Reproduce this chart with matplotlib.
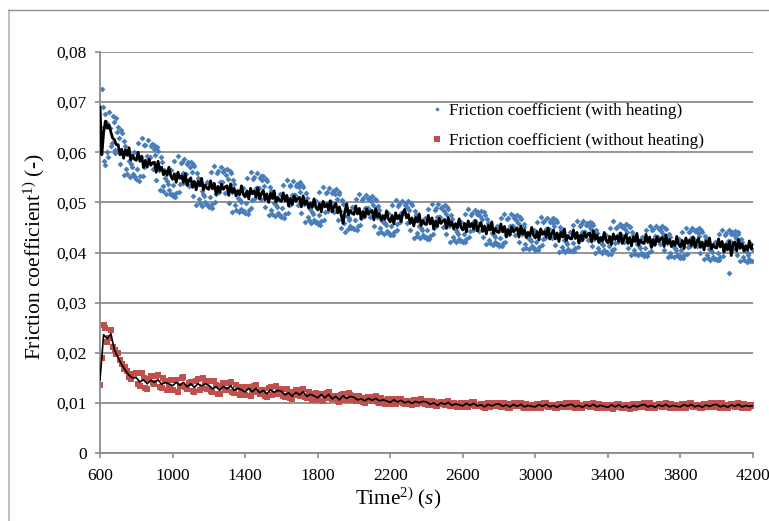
import numpy as np
import matplotlib
matplotlib.use('Agg')
import matplotlib.pyplot as plt
from matplotlib.lines import Line2D
from matplotlib.ticker import FuncFormatter, MultipleLocator

plt.rcParams['font.family'] = ['Liberation Serif', 'DejaVu Serif']
plt.rcParams['mathtext.fontset'] = 'custom'
plt.rcParams['mathtext.rm'] = 'Liberation Serif'
plt.rcParams['mathtext.it'] = 'Liberation Serif:italic'

# sampling times (s)
time_fine = np.arange(600, 4201, 10)      # 361 samples
time_fine_mid = np.arange(605, 4200, 10)  # 360 samples
time_coarse = np.arange(600, 4201, 20)    # 181 samples
time_coarse_mid = np.arange(610, 4200, 20)  # 180 samples

# values in units of 1e-4
heat_scatter_1e4 = [
    650, 726, 583, 676, 600, 680, 612, 672, 605, 668,
    650, 576, 638, 555, 613, 557, 582, 576, 557, 600,
    547, 618, 552, 628, 570, 615, 592, 589, 612, 566,
    615, 545, 603, 524, 580, 522, 549, 543, 524, 565,
    513, 582, 518, 592, 536, 581, 558, 557, 576, 533,
    581, 513, 572, 495, 549, 498, 522, 517, 500, 541,
    490, 560, 497, 572, 516, 563, 541, 540, 561, 518,
    567, 499, 558, 481, 536, 484, 509, 504, 487, 528,
    478, 548, 485, 560, 505, 551, 529, 529, 549, 507,
    552, 490, 543, 474, 523, 477, 499, 495, 479, 517,
    470, 534, 477, 544, 495, 535, 515, 515, 533, 495,
    540, 478, 530, 461, 509, 464, 486, 481, 465, 502,
    456, 520, 463, 530, 481, 521, 501, 501, 519, 481,
    526, 464, 517, 448, 497, 440, 473, 469, 453, 491,
    446, 506, 452, 516, 469, 508, 489, 489, 506, 470,
    512, 453, 504, 438, 484, 441, 461, 458, 442, 478,
    434, 495, 440, 505, 457, 497, 478, 478, 495, 459,
    502, 444, 494, 429, 475, 432, 453, 449, 434, 469,
    426, 487, 432, 497, 449, 489, 471, 470, 488, 451,
    494, 436, 486, 421, 467, 424, 445, 441, 426, 461,
    421, 477, 427, 486, 442, 478, 462, 461, 477, 443,
    483, 430, 475, 416, 458, 418, 438, 434, 421, 453,
    413, 468, 419, 477, 434, 469, 453, 452, 468, 434,
    474, 421, 466, 407, 450, 409, 429, 426, 412, 445,
    405, 461, 411, 470, 427, 462, 446, 446, 461, 428,
    468, 415, 461, 401, 444, 404, 424, 420, 407, 440,
    403, 454, 408, 462, 423, 456, 441, 440, 455, 425,
    461, 413, 454, 400, 439, 402, 420, 417, 404, 434,
    398, 449, 404, 462, 418, 451, 436, 435, 450, 420,
    456, 408, 450, 395, 434, 398, 416, 412, 400, 430,
    394, 445, 400, 453, 414, 447, 432, 431, 446, 416,
    452, 404, 446, 391, 430, 394, 412, 408, 396, 426,
    390, 441, 396, 449, 410, 443, 428, 427, 442, 412,
    448, 400, 441, 387, 426, 389, 407, 404, 391, 421,
    385, 436, 391, 444, 405, 438, 423, 359, 437, 407,
    443, 395, 437, 383, 421, 385, 402, 399, 387, 417,
    405,
]

heat_scatter_mid_1e4 = [
    640, 690, 575, 660, 590, 648, 618, 660, 598, 640,
    628, 644, 597, 623, 567, 597, 551, 571, 552, 550,
    567, 543, 591, 552, 615, 572, 624, 591, 616, 606,
    595, 611, 564, 590, 533, 564, 517, 537, 517, 516,
    534, 511, 556, 521, 578, 539, 587, 557, 580, 570,
    560, 576, 534, 558, 507, 536, 493, 513, 496, 495,
    511, 489, 535, 501, 558, 521, 570, 540, 565, 555,
    546, 562, 520, 544, 494, 522, 480, 500, 483, 482,
    499, 477, 523, 489, 547, 509, 558, 529, 553, 544,
    533, 547, 509, 531, 485, 511, 472, 491, 475, 475,
    489, 469, 511, 479, 533, 497, 542, 515, 537, 530,
    521, 535, 496, 518, 471, 498, 459, 477, 461, 460,
    475, 455, 497, 465, 519, 483, 528, 501, 523, 516,
    507, 521, 483, 505, 459, 485, 446, 465, 449, 449,
    464, 445, 485, 455, 505, 472, 514, 489, 509, 502,
    494, 507, 471, 492, 448, 473, 436, 454, 439, 439,
    452, 434, 473, 444, 493, 461, 503, 478, 498, 491,
    484, 498, 461, 483, 439, 464, 428, 445, 431, 430,
    444, 426, 465, 436, 485, 453, 496, 470, 491, 483,
    476, 490, 453, 475, 431, 456, 420, 437, 423, 422,
    437, 421, 456, 430, 475, 445, 485, 461, 481, 473,
    467, 480, 446, 466, 425, 448, 415, 430, 417, 416,
    429, 412, 448, 421, 467, 436, 476, 452, 472, 464,
    458, 471, 437, 457, 417, 439, 406, 422, 408, 408,
    421, 405, 440, 414, 460, 429, 469, 446, 465, 458,
    452, 465, 432, 451, 411, 434, 401, 416, 403, 403,
    418, 403, 435, 411, 453, 426, 462, 440, 458, 452,
    446, 458, 427, 445, 409, 429, 399, 414, 401, 401,
    413, 398, 431, 406, 448, 421, 457, 435, 453, 447,
    441, 453, 423, 440, 404, 425, 395, 409, 397, 397,
    409, 394, 427, 402, 444, 417, 453, 431, 449, 443,
    437, 449, 419, 436, 400, 421, 391, 405, 393, 393,
    405, 390, 423, 398, 440, 413, 449, 427, 445, 439,
    433, 445, 414, 432, 396, 416, 386, 401, 388, 388,
    400, 385, 418, 393, 435, 408, 444, 422, 440, 434,
    428, 440, 410, 427, 391, 412, 382, 396, 384, 384,
]

heat_line_1e4 = [
    690, 595, 640, 662, 648, 655, 640, 628, 625, 615,
    615, 595, 606, 588, 605, 594, 609, 585, 594, 586,
    584, 600, 582, 592, 570, 584, 571, 586, 574, 579,
    580, 560, 582, 564, 570, 555, 563, 554, 570, 553,
    546, 557, 540, 560, 548, 553, 540, 557, 534, 544,
    549, 530, 542, 525, 542, 533, 548, 525, 535, 528,
    526, 543, 527, 538, 516, 532, 520, 536, 526, 531,
    533, 514, 537, 520, 528, 513, 523, 515, 533, 516,
    511, 523, 507, 528, 517, 523, 511, 529, 507, 518,
    524, 505, 517, 500, 518, 508, 523, 501, 510, 504,
    502, 519, 503, 514, 493, 508, 496, 513, 502, 508,
    510, 491, 513, 496, 503, 489, 498, 490, 507, 490,
    485, 497, 481, 502, 491, 497, 485, 503, 481, 492,
    498, 479, 491, 474, 458, 482, 497, 475, 484, 478,
    476, 493, 477, 488, 467, 482, 470, 487, 476, 482,
    484, 465, 488, 471, 478, 464, 473, 466, 483, 467,
    461, 474, 457, 479, 467, 474, 462, 480, 486, 469,
    476, 458, 469, 453, 470, 461, 477, 454, 464, 457,
    456, 474, 457, 469, 447, 463, 452, 468, 458, 463,
    466, 448, 470, 454, 461, 447, 457, 449, 467, 450,
    445, 458, 441, 463, 451, 458, 447, 464, 443, 453,
    460, 442, 453, 437, 454, 445, 461, 438, 448, 441,
    440, 457, 441, 452, 431, 446, 435, 451, 441, 446,
    449, 431, 453, 437, 445, 430, 440, 433, 450, 434,
    429, 442, 425, 447, 436, 442, 431, 449, 427, 438,
    445, 427, 439, 422, 440, 431, 447, 424, 434, 428,
    427, 445, 428, 440, 419, 435, 424, 440, 430, 436,
    439, 421, 443, 427, 435, 420, 430, 423, 440, 424,
    419, 432, 416, 437, 426, 433, 422, 439, 418, 429,
    436, 418, 430, 413, 431, 422, 438, 415, 425, 419,
    418, 436, 420, 431, 410, 426, 415, 431, 421, 427,
    430, 412, 435, 418, 426, 412, 422, 414, 432, 416,
    411, 424, 408, 429, 418, 425, 414, 431, 410, 421,
    428, 410, 421, 405, 423, 413, 429, 407, 416, 410,
    409, 427, 411, 422, 401, 417, 406, 422, 394, 418,
    421, 403, 426, 409, 417, 403, 413, 405, 423, 407,
    414,
]

noheat_scatter_1e4 = [
    136, 256, 222, 245, 205, 200, 178, 172, 152, 158,
    160, 134, 150, 128, 153, 137, 156, 129, 143, 132,
    125, 146, 134, 151, 127, 141, 121, 147, 129, 143,
    143, 122, 135, 117, 139, 125, 142, 119, 131, 121,
    116, 132, 122, 135, 117, 126, 112, 132, 118, 128,
    128, 112, 122, 108, 125, 114, 127, 109, 118, 111,
    106, 118, 110, 121, 107, 114, 102, 118, 106, 115,
    114, 103, 110, 100, 112, 104, 113, 100, 106, 101,
    98, 107, 102, 108, 98, 104, 96, 106, 99, 104,
    104, 95, 101, 93, 102, 96, 103, 93, 98, 94,
    92, 99, 95, 101, 93, 97, 90, 99, 93, 98,
    100, 91, 97, 90, 99, 93, 99, 90, 95, 91,
    90, 97, 93, 99, 91, 96, 89, 98, 92, 97,
    99, 90, 96, 89, 98, 92, 99, 90, 95, 91,
    89, 96, 92, 98, 90, 95, 88, 97, 91, 96,
    99, 90, 96, 89, 98, 92, 99, 90, 95, 91,
    90, 97, 93, 99, 91, 96, 89, 98, 92, 97,
    99, 90, 96, 89, 98, 92, 99, 90, 95, 91,
    94,
]

noheat_scatter_mid_1e4 = [
    190, 250, 230, 212, 198, 186, 168, 163, 148, 155,
    137, 159, 129, 148, 139, 153, 132, 149, 125, 145,
    145, 122, 150, 131, 139, 124, 144, 126, 150, 128,
    124, 143, 118, 134, 126, 139, 121, 136, 115, 132,
    131, 113, 134, 121, 125, 114, 130, 115, 133, 117,
    114, 128, 109, 121, 115, 125, 111, 122, 106, 119,
    118, 103, 120, 109, 113, 104, 116, 105, 119, 105,
    104, 114, 101, 109, 105, 112, 102, 109, 98, 107,
    106, 97, 107, 100, 103, 97, 105, 97, 107, 98,
    96, 104, 93, 100, 97, 102, 94, 100, 92, 99,
    99, 91, 101, 94, 96, 91, 98, 92, 100, 93,
    92, 100, 90, 97, 94, 99, 91, 97, 89, 96,
    97, 89, 99, 92, 95, 90, 97, 91, 99, 92,
    91, 99, 89, 96, 93, 98, 91, 97, 89, 96,
    96, 88, 98, 91, 94, 89, 96, 90, 98, 91,
    91, 99, 89, 96, 93, 98, 91, 97, 89, 96,
    97, 89, 99, 92, 95, 90, 97, 91, 99, 92,
    91, 99, 89, 96, 93, 98, 91, 97, 89, 96,
]

noheat_line_1e4 = [
    146, 236, 228, 238, 205, 190, 176, 165, 155, 150,
    150, 142, 146, 138, 145, 141, 146, 137, 141, 138,
    134, 141, 135, 141, 132, 138, 131, 138, 134, 138,
    135, 128, 132, 125, 133, 128, 134, 125, 129, 126,
    122, 129, 122, 129, 120, 125, 118, 126, 121, 125,
    123, 116, 120, 113, 121, 116, 122, 113, 117, 114,
    110, 117, 110, 117, 108, 113, 106, 114, 109, 113,
    111, 106, 108, 104, 109, 105, 109, 104, 106, 104,
    101, 106, 102, 105, 100, 103, 99, 103, 100, 103,
    102, 97, 100, 95, 100, 97, 101, 95, 98, 96,
    94, 99, 95, 99, 94, 96, 92, 97, 94, 97,
    98, 93, 96, 92, 97, 93, 97, 92, 95, 93,
    92, 97, 93, 97, 92, 95, 91, 96, 93, 96,
    97, 92, 95, 91, 96, 93, 97, 92, 95, 93,
    91, 96, 92, 96, 91, 94, 90, 95, 92, 95,
    97, 92, 95, 91, 96, 93, 97, 92, 95, 93,
    92, 97, 93, 97, 92, 95, 91, 96, 93, 96,
    97, 92, 95, 91, 96, 93, 97, 92, 95, 93,
    94,
]

series_labels = ['Friction coefficient (with heating)',
                 'Friction coefficient (without heating)']
x_ticks = [600, 1000, 1400, 1800, 2200, 2600, 3000, 3400, 3800, 4200]

heat_scatter = np.array(heat_scatter_1e4) / 1e4
heat_scatter_mid = np.array(heat_scatter_mid_1e4) / 1e4
heat_line = np.array(heat_line_1e4) / 1e4
noheat_scatter = np.array(noheat_scatter_1e4) / 1e4
noheat_scatter_mid = np.array(noheat_scatter_mid_1e4) / 1e4
noheat_line = np.array(noheat_line_1e4) / 1e4

W, H = 769, 521
fig = plt.figure(figsize=(W / 100, H / 100), dpi=100)
fig.patch.set_facecolor('white')

# outer chart frame (left and top edges visible)
fig.add_artist(Line2D([8.5 / W, 8.5 / W], [0, 1 - 10 / H], transform=fig.transFigure,
                      color='#b4b4b4', lw=1.2))
fig.add_artist(Line2D([8.5 / W, 1], [1 - 10 / H, 1 - 10 / H], transform=fig.transFigure,
                      color='#909090', lw=1.0))

left, right, top, bottom = 100, 753, 52, 453
ax = fig.add_axes([left / W, 1 - bottom / H, (right - left) / W, (bottom - top) / H])

blue = '#4a7ebb'
red = '#c0504d'
grid_c = '#8c8c8c'

ax.plot(time_fine, heat_scatter, linestyle='none', marker='D', markersize=3.0,
        color=blue, markeredgewidth=0, label=series_labels[0], zorder=2)
ax.plot(time_fine_mid, heat_scatter_mid, linestyle='none', marker='D', markersize=3.0,
        color=blue, markeredgewidth=0, zorder=2)
ax.plot(time_coarse, noheat_scatter, linestyle='none', marker='s', markersize=5.0,
        color=red, markeredgewidth=0, label=series_labels[1], zorder=2)
ax.plot(time_coarse_mid, noheat_scatter_mid, linestyle='none', marker='s', markersize=5.0,
        color=red, markeredgewidth=0, zorder=2)
ax.plot(time_fine, heat_line, color='black', lw=2.0, zorder=3)
ax.plot(time_coarse, noheat_line, color='black', lw=1.2, zorder=3)

ax.set_xlim(600, 4200)
ax.set_ylim(0, 0.08)
ax.set_xticks(x_ticks)
ax.yaxis.set_major_locator(MultipleLocator(0.01))
ax.yaxis.set_major_formatter(FuncFormatter(
    lambda v, p: '0' if abs(v) < 1e-9 else f'{v:.2f}'.replace('.', ',')))

ax.grid(axis='y', color=grid_c, lw=1.3, zorder=0)
ax.set_axisbelow(True)
for s in ['top', 'right']:
    ax.spines[s].set_visible(False)
for s in ['left', 'bottom']:
    ax.spines[s].set_color(grid_c)
    ax.spines[s].set_linewidth(1.3)
ax.tick_params(axis='both', direction='out', length=3.5, width=1.2, color=grid_c,
               labelsize=12.5, labelcolor='black')
ax.tick_params(axis='y', pad=5.8)
ax.tick_params(axis='x', pad=7)

ax.set_ylabel('Friction coefficient$^{1)}$ (-)', fontsize=15.5)
ax.set_xlabel('Time$^{2)}$ ($\\mathit{s}$)', fontsize=15.2)
ax.yaxis.set_label_coords((47 - left) / (right - left), 0.49)
ax.xaxis.set_label_coords((398 - left) / (right - left), (bottom - 485) / (bottom - top))

leg = ax.legend(loc='upper left',
                bbox_to_anchor=((432 - left) / (right - left), 1 - (103 - top) / (bottom - top)),
                frameon=False, fontsize=12.3, handlelength=0.6, handletextpad=0.4,
                labelspacing=0.8, borderaxespad=0, borderpad=0, markerscale=0.75)

fig.savefig('out.png', dpi=100, facecolor='white')
